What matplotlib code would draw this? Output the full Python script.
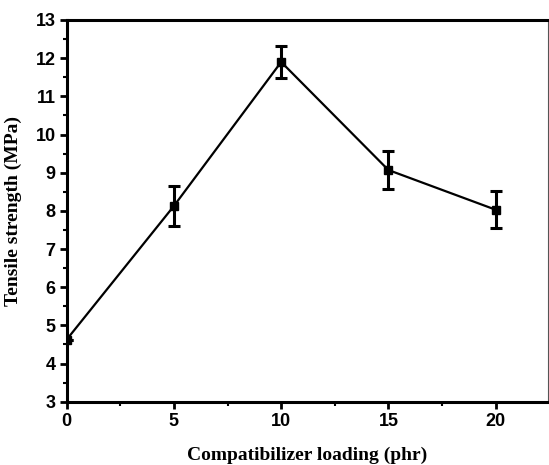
import matplotlib
matplotlib.use("Agg")
import matplotlib.pyplot as plt
from matplotlib.ticker import MultipleLocator

# data
loading = [0, 5, 10, 15, 20]
strength = [4.63, 8.13, 11.90, 9.07, 8.03]
strength_err = [0.0, 0.52, 0.42, 0.51, 0.49]

x_label = "Compatibilizer loading (phr)"
y_label = "Tensile strength (MPa)"


def main():
    fig = plt.figure(figsize=(5.49, 4.65), dpi=100)
    ax = fig.add_axes([0.1215, 0.136, 0.877, 0.821])

    ax.errorbar(loading, strength, yerr=strength_err, color="black",
                marker="s", markersize=6, linewidth=1.6,
                elinewidth=2.2, capsize=4, capthick=2.2, clip_on=True)

    ax.set_xlim(0, 22.45)
    ax.set_ylim(3, 13)
    ax.xaxis.set_major_locator(MultipleLocator(5))
    ax.xaxis.set_minor_locator(MultipleLocator(2.5))
    ax.yaxis.set_major_locator(MultipleLocator(1))
    ax.yaxis.set_minor_locator(MultipleLocator(0.5))

    for side in ["left", "bottom", "top"]:
        ax.spines[side].set_linewidth(2.2)
        ax.spines[side].set_color("black")
    ax.spines["right"].set_linewidth(0.8)
    ax.spines["right"].set_color("#555555")

    ax.tick_params(which="major", direction="out", length=5, width=2,
                   labelsize=13, pad=3)
    ax.tick_params(which="minor", direction="out", length=3, width=1.5)
    for lab in ax.get_xticklabels() + ax.get_yticklabels():
        lab.set_fontfamily("Liberation Sans")
        lab.set_fontweight("bold")

    ax.set_xlabel(x_label, fontfamily="Liberation Serif", fontweight="bold",
                  fontsize=14, labelpad=12)
    ax.set_ylabel(y_label, fontfamily="Liberation Serif", fontweight="bold",
                  fontsize=14, labelpad=10)

    fig.savefig("out.png", dpi=100)
    plt.close(fig)


if __name__ == '__main__':
    main()
